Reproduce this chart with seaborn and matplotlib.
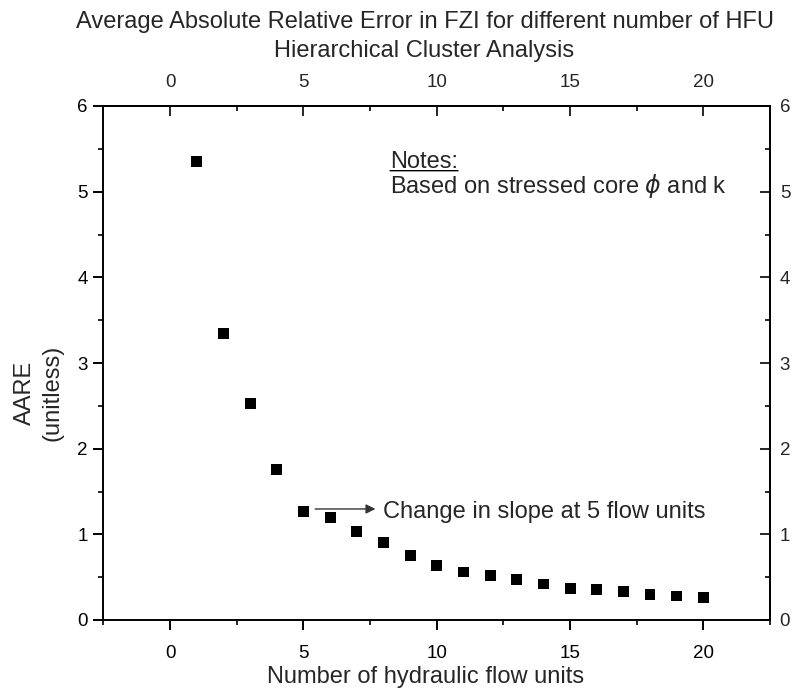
import matplotlib
matplotlib.use("Agg")
import matplotlib.pyplot as plt
from matplotlib.ticker import MultipleLocator
import seaborn as sns
import pandas as pd

# Data
flow_units = [1, 2, 3, 4, 5, 6, 7, 8, 9, 10, 11, 12, 13, 14, 15, 16, 17, 18, 19, 20]
aare = [5.35, 3.34, 2.53, 1.76, 1.27, 1.20, 1.03, 0.91, 0.755, 0.64,
        0.56, 0.52, 0.475, 0.42, 0.37, 0.36, 0.33, 0.295, 0.28, 0.26]

title_line1 = "Average Absolute Relative Error in FZI for different number of HFU"
title_line2 = "Hierarchical Cluster Analysis"
xlabel_text = "Number of hydraulic flow units"
ylabel_text = "AARE\n(unitless)"
notes_title = "Notes:"
notes_body = r"Based on stressed core $\phi$ and k"
arrow_text = "Change in slope at 5 flow units"

df = pd.DataFrame({"units": flow_units, "aare": aare})

sns.set_theme(style="ticks")
plt.rcParams['font.family'] = ['Liberation Sans', 'DejaVu Sans']
plt.rcParams['mathtext.fontset'] = 'dejavusans'

W, H = 793, 698
fig = plt.figure(figsize=(W / 100, H / 100), dpi=100)
L, R, T, B = 103.5, 770, 106, 620
ax = fig.add_axes([L / W, 1 - B / H, (R - L) / W, (B - T) / H])

sns.scatterplot(data=df, x="units", y="aare", marker="s", s=62, color="black",
                edgecolor="none", ax=ax, legend=False)

ax.set_xlim(-2.5, 22.5)
ax.set_ylim(0, 6)
ax.xaxis.set_major_locator(MultipleLocator(5))
ax.xaxis.set_minor_locator(MultipleLocator(2.5))
ax.yaxis.set_major_locator(MultipleLocator(1))
ax.yaxis.set_minor_locator(MultipleLocator(0.5))

lw = 1.4
tick_fs = 13.5
lab_fs = 17
for sp in ax.spines.values():
    sp.set_linewidth(lw)
    sp.set_color("black")
    sp.set_visible(True)

ax.tick_params(axis="x", which="major", direction="out", length=7, width=lw,
               labelsize=tick_fs, colors="black", pad=11)
ax.tick_params(axis="y", which="major", direction="out", length=7, width=lw,
               labelsize=tick_fs, colors="black", pad=4.3)
ax.tick_params(which="minor", direction="out", length=3.6, width=lw)

ax.set_xlabel(xlabel_text, fontsize=lab_fs)
ax.xaxis.label.set_va("baseline")
ax.xaxis.set_label_coords((426 - L) / (R - L), (B - 683) / (B - T))

ax.set_ylabel(ylabel_text, fontsize=lab_fs, multialignment="center", linespacing=1.3)
ax.yaxis.label.set_va("center")
ax.yaxis.label.set_ha("center")
ax.yaxis.set_label_coords((39 - L) / (R - L), (B - 393) / (B - T))

# Top and right mirrored axes
secx = ax.secondary_xaxis("top")
secx.xaxis.set_major_locator(MultipleLocator(5))
secx.xaxis.set_minor_locator(MultipleLocator(2.5))
secx.tick_params(which="major", direction="in", length=7, width=lw, labelsize=tick_fs, pad=10.8)
secx.tick_params(which="minor", direction="in", length=3.6, width=lw)
secx.spines["top"].set_linewidth(lw)

secy = ax.secondary_yaxis("right")
secy.yaxis.set_major_locator(MultipleLocator(1))
secy.yaxis.set_minor_locator(MultipleLocator(0.5))
secy.tick_params(which="major", direction="in", length=7, width=lw, labelsize=tick_fs, pad=7)
secy.tick_params(which="minor", direction="in", length=3.6, width=lw)
secy.spines["right"].set_linewidth(lw)

fig.text(424.5 / W, 1 - 28 / H, title_line1, ha="center", va="baseline", fontsize=17)
fig.text(424.5 / W, 1 - 57.5 / H, title_line2, ha="center", va="baseline", fontsize=17)

# Notes
ax.text(8.25, 5.273, notes_title, fontsize=lab_fs, ha="left", va="baseline")
ax.annotate("", xy=(8.25, 5.245), xytext=(10.8, 5.245),
            arrowprops=dict(arrowstyle="-", lw=1.0, color="black", shrinkA=0, shrinkB=0))
ax.text(8.25, 4.98, notes_body, fontsize=lab_fs, ha="left", va="baseline")

# Arrow annotation
ax.annotate("", xy=(7.7, 1.296), xytext=(5.44, 1.296),
            arrowprops=dict(arrowstyle="-|>", lw=1.0, color="#333333",
                            mutation_scale=14, shrinkA=0, shrinkB=0))
ax.text(8.0, 1.19, arrow_text, fontsize=lab_fs, ha="left", va="baseline")

fig.savefig("out.png", dpi=100)
